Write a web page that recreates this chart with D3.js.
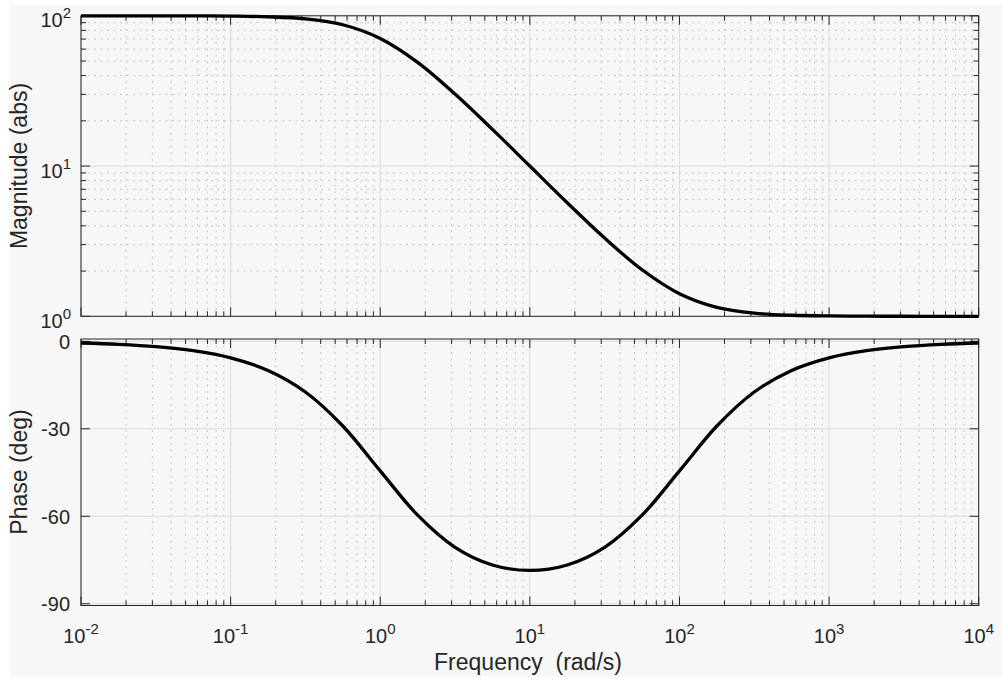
<!DOCTYPE html>
<html><head><meta charset="utf-8">
<script src="https://cdn.jsdelivr.net/npm/d3@7"></script>
<style>
html,body{margin:0;padding:0;background:#fff;}
svg{display:block;font-family:"Liberation Sans",Arial,Helvetica,sans-serif;}
</style>
</head><body>
<svg id="c" width="1002" height="680"></svg>
<script>
// Frequency points (rad/s)
const frequency = [0.01, 0.01778, 0.03162, 0.05623, 0.1, 0.1778, 0.3162, 0.5623,
  1, 1.778, 3.162, 5.623, 10, 17.78, 31.62, 56.23, 100, 177.8, 316.2, 562.3,
  1000, 1778, 3162, 5623, 10000];
// Magnitude (abs)
const magnitude = [100.0, 99.98, 99.95, 99.84, 99.50, 98.46, 95.35, 87.16,
  70.71, 49.03, 30.17, 17.54, 10.0, 5.70, 3.315, 2.04, 1.414, 1.147, 1.049, 1.016,
  1.005, 1.0016, 1.0005, 1.0002, 1.0001];
// Phase (deg)
const phase = [-0.57, -1.01, -1.79, -3.19, -5.65, -9.98, -17.37, -29.04,
  -44.43, -59.62, -70.64, -76.70, -78.58, -76.70, -70.64, -59.62, -44.43, -29.04,
  -17.37, -9.98, -5.65, -3.19, -1.79, -1.01, -0.57];
// Tick labels
const freqTickExps = ["-2", "-1", "0", "1", "2", "3", "4"];
const magTickExps = ["0", "1", "2"];
const phaseTicks = [0, -30, -60, -90];
const phaseTickLabels = ["0", "-30", "-60", "-90"];

const svg = d3.select("#c");
svg.append("rect").attr("x", 10).attr("y", 5).attr("width", 992).attr("height", 672).attr("fill", "#f7f7f7");

const L = 81, R = 978.7;
const x = d3.scaleLog().domain([1e-2, 1e4]).range([L, R]);
const yM = d3.scaleLog().domain([1, 100]).range([316.3, 15.8]);
const yP = d3.scaleLinear().domain([-90.6, 0.8]).range([605.5, 339]);

const axisColor = "#262626";
const majorGrid = "#dcdcdc";
const minorGrid = "#c8c8c8";
const MAJ = 9, MIN = 5;

const xAll = x.ticks();
const isDecade = v => Math.abs(Math.log10(v) - Math.round(Math.log10(v))) < 1e-9;
const xMajor = xAll.filter(isDecade);
const xMinor = xAll.filter(v => !isDecade(v));

function panel(top, bottom, yScale, yMajor, yMinor) {
  const g = svg.append("g");
  xMinor.forEach(v => g.append("line").attr("x1", x(v)).attr("x2", x(v)).attr("y1", top).attr("y2", bottom)
    .attr("stroke", minorGrid).attr("stroke-width", 1).attr("stroke-dasharray", "2,4.5"));
  yMinor.forEach(v => g.append("line").attr("x1", L).attr("x2", R).attr("y1", yScale(v)).attr("y2", yScale(v))
    .attr("stroke", minorGrid).attr("stroke-width", 1).attr("stroke-dasharray", "2,4.5"));
  xMajor.forEach(v => g.append("line").attr("x1", x(v)).attr("x2", x(v)).attr("y1", top).attr("y2", bottom)
    .attr("stroke", majorGrid).attr("stroke-width", 1));
  yMajor.forEach(v => g.append("line").attr("x1", L).attr("x2", R).attr("y1", yScale(v)).attr("y2", yScale(v))
    .attr("stroke", majorGrid).attr("stroke-width", 1));
  const tk = (x1, y1, x2, y2) => g.append("line").attr("x1", x1).attr("y1", y1).attr("x2", x2).attr("y2", y2)
    .attr("stroke", axisColor).attr("stroke-width", 1);
  xMajor.forEach(v => { tk(x(v), bottom, x(v), bottom - MAJ); tk(x(v), top, x(v), top + MAJ); });
  xMinor.forEach(v => { tk(x(v), bottom, x(v), bottom - MIN); tk(x(v), top, x(v), top + MIN); });
  yMajor.forEach(v => { tk(L, yScale(v), L + MAJ, yScale(v)); tk(R, yScale(v), R - MAJ, yScale(v)); });
  yMinor.forEach(v => { tk(L, yScale(v), L + MIN, yScale(v)); tk(R, yScale(v), R - MIN, yScale(v)); });
  g.append("rect").attr("x", L).attr("y", top).attr("width", R - L).attr("height", bottom - top)
    .attr("fill", "none").attr("stroke", axisColor).attr("stroke-width", 1);
  return g;
}

const magAll = yM.ticks();
const magMajor = magAll.filter(isDecade);
const magMinor = magAll.filter(v => !isDecade(v));
panel(15.8, 316.3, yM, magMajor, magMinor);
panel(339, 605.5, yP, phaseTicks, []);

const data = frequency.map((f, i) => ({ f, m: magnitude[i], p: phase[i] }));
svg.append("path").datum(data)
  .attr("d", d3.line().x(d => x(d.f)).y(d => yM(d.m)).curve(d3.curveCatmullRom.alpha(0.5)))
  .attr("fill", "none").attr("stroke", "#000").attr("stroke-width", 3.3).attr("stroke-linejoin", "round");
svg.append("path").datum(data)
  .attr("d", d3.line().x(d => x(d.f)).y(d => yP(d.p)).curve(d3.curveCatmullRom.alpha(0.5)))
  .attr("fill", "none").attr("stroke", "#000").attr("stroke-width", 3.3).attr("stroke-linejoin", "round");

const textColor = "#262626";
magMajor.forEach((v, i) => {
  const t = svg.append("text").attr("x", 71).attr("y", yM(v) + 11.5).attr("text-anchor", "end")
    .attr("fill", textColor).attr("font-size", 20);
  t.append("tspan").text("10");
  t.append("tspan").attr("dy", -9).attr("font-size", 15).text(magTickExps[i]);
});
phaseTicks.forEach((v, i) => {
  svg.append("text").attr("x", 70).attr("y", yP(v) + 7.5).attr("text-anchor", "end")
    .attr("fill", textColor).attr("font-size", 20).text(phaseTickLabels[i]);
});
xMajor.forEach((v, i) => {
  const t = svg.append("text").attr("x", x(v)).attr("y", 643).attr("text-anchor", "middle")
    .attr("fill", textColor).attr("font-size", 20);
  t.append("tspan").text("10");
  t.append("tspan").attr("dy", -9).attr("font-size", 15).text(freqTickExps[i]);
});

svg.append("text").attr("transform", "translate(27,166) rotate(-90)").attr("text-anchor", "middle")
  .attr("fill", textColor).attr("font-size", 23).text("Magnitude (abs)");
svg.append("text").attr("transform", "translate(27,472) rotate(-90)").attr("text-anchor", "middle")
  .attr("fill", textColor).attr("font-size", 23).text("Phase (deg)");
svg.append("text").attr("x", 528).attr("y", 670).attr("text-anchor", "middle")
  .attr("fill", textColor).attr("font-size", 23).style("white-space", "pre").text("Frequency  (rad/s)");
</script>
</body></html>
